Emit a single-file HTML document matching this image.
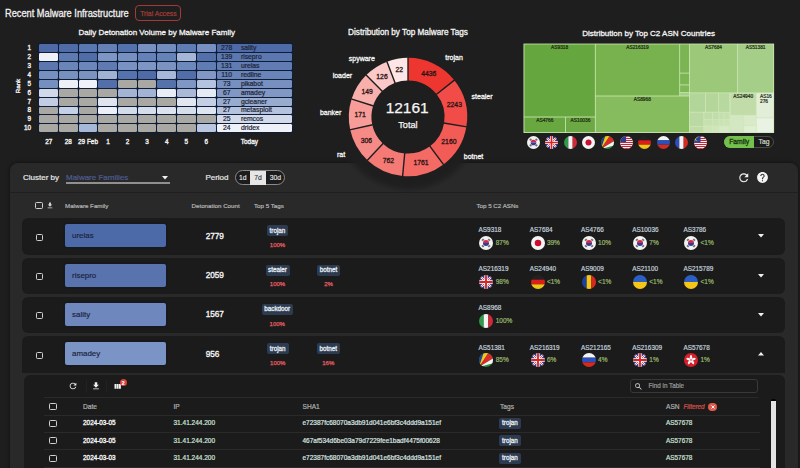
<!DOCTYPE html><html><head><meta charset="utf-8"><style>
html,body{margin:0;padding:0;width:800px;height:468px;overflow:hidden;background:#1e1e1e;font-family:"Liberation Sans", sans-serif;}
.t{-webkit-text-stroke:0.2px currentColor;}
div{box-sizing:border-box;}
</style></head><body><div style="position:relative;width:800px;height:468px;overflow:hidden;">
<div class="t" style="position:absolute;left:4.7px;top:13.7px;transform:translate(0,-50%);font-size:10px;color:#f0f0f0;font-weight:400;white-space:nowrap;line-height:1;transform:translate(0,-50%) scaleX(0.924);transform-origin:0 50%;-webkit-text-stroke:0.3px #f0f0f0;">Recent Malware Infrastructure</div>
<div style="position:absolute;left:135.3px;top:4.8px;width:45.7px;height:16.6px;border:1.1px solid #a33a36;border-radius:4px;"></div>
<div class="t" style="position:absolute;left:158.4px;top:14.0px;transform:translate(-50%,-50%);font-size:6.8px;color:#9e3b37;font-weight:400;white-space:nowrap;line-height:1;-webkit-text-stroke:0.25px #9e3b37;">Trial Access</div>
<div class="t" style="position:absolute;left:156.7px;top:33px;transform:translate(-50%,-50%);font-size:8px;color:#f4f4f4;font-weight:400;white-space:nowrap;line-height:1;-webkit-text-stroke:0.3px #f4f4f4;">Daily Detonation Volume by Malware Family</div>
<div style="position:absolute;left:38px;top:43.1px;width:254.5px;height:90px;background:#0e1c38;border-radius:1px;"></div>
<div style="position:absolute;left:39px;top:44px;width:19px;height:8px;background:#4e6ba6;border-radius:1.3px;"></div>
<div style="position:absolute;left:59px;top:44px;width:19px;height:8px;background:#4f6ca7;border-radius:1.3px;"></div>
<div style="position:absolute;left:79px;top:44px;width:18px;height:8px;background:#5a78b0;border-radius:1.3px;"></div>
<div style="position:absolute;left:98px;top:44px;width:19px;height:8px;background:#6580b5;border-radius:1.3px;"></div>
<div style="position:absolute;left:118px;top:44px;width:19px;height:8px;background:#5472ac;border-radius:1.3px;"></div>
<div style="position:absolute;left:138px;top:44px;width:18px;height:8px;background:#7790c0;border-radius:1.3px;"></div>
<div style="position:absolute;left:157px;top:44px;width:19px;height:8px;background:#728cbd;border-radius:1.3px;"></div>
<div style="position:absolute;left:177px;top:44px;width:19px;height:8px;background:#5f7cb3;border-radius:1.3px;"></div>
<div style="position:absolute;left:197px;top:44px;width:19px;height:8px;background:#7790c0;border-radius:1.3px;"></div>
<div style="position:absolute;left:39px;top:53px;width:19px;height:8px;background:#eef1f6;border-radius:1.3px;"></div>
<div style="position:absolute;left:59px;top:53px;width:19px;height:8px;background:#5e7bb1;border-radius:1.3px;"></div>
<div style="position:absolute;left:79px;top:53px;width:18px;height:8px;background:#506da8;border-radius:1.3px;"></div>
<div style="position:absolute;left:98px;top:53px;width:19px;height:8px;background:#7e96c3;border-radius:1.3px;"></div>
<div style="position:absolute;left:118px;top:53px;width:19px;height:8px;background:#7690c0;border-radius:1.3px;"></div>
<div style="position:absolute;left:138px;top:53px;width:18px;height:8px;background:#6582b8;border-radius:1.3px;"></div>
<div style="position:absolute;left:157px;top:53px;width:19px;height:8px;background:#6683b8;border-radius:1.3px;"></div>
<div style="position:absolute;left:177px;top:53px;width:19px;height:8px;background:#a5b6d6;border-radius:1.3px;"></div>
<div style="position:absolute;left:197px;top:53px;width:19px;height:8px;background:#5470aa;border-radius:1.3px;"></div>
<div style="position:absolute;left:39px;top:62px;width:19px;height:8px;background:#5b77ad;border-radius:1.3px;"></div>
<div style="position:absolute;left:59px;top:62px;width:19px;height:8px;background:#6a86b9;border-radius:1.3px;"></div>
<div style="position:absolute;left:79px;top:62px;width:18px;height:8px;background:#6c87ba;border-radius:1.3px;"></div>
<div style="position:absolute;left:98px;top:62px;width:19px;height:8px;background:#5f7bb1;border-radius:1.3px;"></div>
<div style="position:absolute;left:118px;top:62px;width:19px;height:8px;background:#7892c1;border-radius:1.3px;"></div>
<div style="position:absolute;left:138px;top:62px;width:18px;height:8px;background:#7d96c3;border-radius:1.3px;"></div>
<div style="position:absolute;left:157px;top:62px;width:19px;height:8px;background:#7a93c0;border-radius:1.3px;"></div>
<div style="position:absolute;left:177px;top:62px;width:19px;height:8px;background:#6d88bb;border-radius:1.3px;"></div>
<div style="position:absolute;left:197px;top:62px;width:19px;height:8px;background:#607db3;border-radius:1.3px;"></div>
<div style="position:absolute;left:39px;top:71px;width:19px;height:8px;background:#7690bf;border-radius:1.3px;"></div>
<div style="position:absolute;left:59px;top:71px;width:19px;height:8px;background:#7891bd;border-radius:1.3px;"></div>
<div style="position:absolute;left:79px;top:71px;width:18px;height:8px;background:#7b93bd;border-radius:1.3px;"></div>
<div style="position:absolute;left:98px;top:71px;width:19px;height:8px;background:#a0b3d5;border-radius:1.3px;"></div>
<div style="position:absolute;left:118px;top:71px;width:19px;height:8px;background:#5573ad;border-radius:1.3px;"></div>
<div style="position:absolute;left:138px;top:71px;width:18px;height:8px;background:#4f6ca8;border-radius:1.3px;"></div>
<div style="position:absolute;left:157px;top:71px;width:19px;height:8px;background:#a7b8d8;border-radius:1.3px;"></div>
<div style="position:absolute;left:177px;top:71px;width:19px;height:8px;background:#516ea9;border-radius:1.3px;"></div>
<div style="position:absolute;left:197px;top:71px;width:19px;height:8px;background:#8098c3;border-radius:1.3px;"></div>
<div style="position:absolute;left:39px;top:80px;width:19px;height:8px;background:#7590bf;border-radius:1.3px;"></div>
<div style="position:absolute;left:59px;top:80px;width:19px;height:8px;background:#eef0f8;border-radius:1.3px;"></div>
<div style="position:absolute;left:79px;top:80px;width:18px;height:8px;background:#f0f2f9;border-radius:1.3px;"></div>
<div style="position:absolute;left:98px;top:80px;width:19px;height:8px;background:#526fa9;border-radius:1.3px;"></div>
<div style="position:absolute;left:118px;top:80px;width:19px;height:8px;background:#a9a8a3;border-radius:1.3px;"></div>
<div style="position:absolute;left:138px;top:80px;width:18px;height:8px;background:#a9a8a3;border-radius:1.3px;"></div>
<div style="position:absolute;left:157px;top:80px;width:19px;height:8px;background:#5572ab;border-radius:1.3px;"></div>
<div style="position:absolute;left:177px;top:80px;width:19px;height:8px;background:#7f97c4;border-radius:1.3px;"></div>
<div style="position:absolute;left:197px;top:80px;width:19px;height:8px;background:#b4c3df;border-radius:1.3px;"></div>
<div style="position:absolute;left:39px;top:89px;width:19px;height:8px;background:#d0d9ea;border-radius:1.3px;"></div>
<div style="position:absolute;left:59px;top:89px;width:19px;height:8px;background:#a9a8a3;border-radius:1.3px;"></div>
<div style="position:absolute;left:79px;top:89px;width:18px;height:8px;background:#a9a8a3;border-radius:1.3px;"></div>
<div style="position:absolute;left:98px;top:89px;width:19px;height:8px;background:#a9a8a3;border-radius:1.3px;"></div>
<div style="position:absolute;left:118px;top:89px;width:19px;height:8px;background:#a4b5d3;border-radius:1.3px;"></div>
<div style="position:absolute;left:138px;top:89px;width:18px;height:8px;background:#a2b3d3;border-radius:1.3px;"></div>
<div style="position:absolute;left:157px;top:89px;width:19px;height:8px;background:#e8ecf4;border-radius:1.3px;"></div>
<div style="position:absolute;left:177px;top:89px;width:19px;height:8px;background:#aab9d5;border-radius:1.3px;"></div>
<div style="position:absolute;left:197px;top:89px;width:19px;height:8px;background:#e6eaf3;border-radius:1.3px;"></div>
<div style="position:absolute;left:39px;top:98px;width:19px;height:8px;background:#c2cde3;border-radius:1.3px;"></div>
<div style="position:absolute;left:59px;top:98px;width:19px;height:8px;background:#a9a8a3;border-radius:1.3px;"></div>
<div style="position:absolute;left:79px;top:98px;width:18px;height:8px;background:#a9a8a3;border-radius:1.3px;"></div>
<div style="position:absolute;left:98px;top:98px;width:19px;height:8px;background:#dfe4ee;border-radius:1.3px;"></div>
<div style="position:absolute;left:118px;top:98px;width:19px;height:8px;background:#a9a8a3;border-radius:1.3px;"></div>
<div style="position:absolute;left:138px;top:98px;width:18px;height:8px;background:#a9a8a3;border-radius:1.3px;"></div>
<div style="position:absolute;left:157px;top:98px;width:19px;height:8px;background:#a9a8a3;border-radius:1.3px;"></div>
<div style="position:absolute;left:177px;top:98px;width:19px;height:8px;background:#e2e7ef;border-radius:1.3px;"></div>
<div style="position:absolute;left:197px;top:98px;width:19px;height:8px;background:#c5cfe4;border-radius:1.3px;"></div>
<div style="position:absolute;left:39px;top:107px;width:19px;height:7px;background:#a9a8a3;border-radius:1.3px;"></div>
<div style="position:absolute;left:59px;top:107px;width:19px;height:7px;background:#c4d0e6;border-radius:1.3px;"></div>
<div style="position:absolute;left:79px;top:107px;width:18px;height:7px;background:#a9a8a3;border-radius:1.3px;"></div>
<div style="position:absolute;left:98px;top:107px;width:19px;height:7px;background:#eceff8;border-radius:1.3px;"></div>
<div style="position:absolute;left:118px;top:107px;width:19px;height:7px;background:#d3dbea;border-radius:1.3px;"></div>
<div style="position:absolute;left:138px;top:107px;width:18px;height:7px;background:#d5dcea;border-radius:1.3px;"></div>
<div style="position:absolute;left:157px;top:107px;width:19px;height:7px;background:#dde3ee;border-radius:1.3px;"></div>
<div style="position:absolute;left:177px;top:107px;width:19px;height:7px;background:#d6ddeb;border-radius:1.3px;"></div>
<div style="position:absolute;left:197px;top:107px;width:19px;height:7px;background:#dfe5f0;border-radius:1.3px;"></div>
<div style="position:absolute;left:39px;top:115px;width:19px;height:8px;background:#a9a8a3;border-radius:1.3px;"></div>
<div style="position:absolute;left:59px;top:115px;width:19px;height:8px;background:#a9a8a3;border-radius:1.3px;"></div>
<div style="position:absolute;left:79px;top:115px;width:18px;height:8px;background:#a9a8a3;border-radius:1.3px;"></div>
<div style="position:absolute;left:98px;top:115px;width:19px;height:8px;background:#a9a8a3;border-radius:1.3px;"></div>
<div style="position:absolute;left:118px;top:115px;width:19px;height:8px;background:#a9a8a3;border-radius:1.3px;"></div>
<div style="position:absolute;left:138px;top:115px;width:18px;height:8px;background:#a9a8a3;border-radius:1.3px;"></div>
<div style="position:absolute;left:157px;top:115px;width:19px;height:8px;background:#a9a8a3;border-radius:1.3px;"></div>
<div style="position:absolute;left:177px;top:115px;width:19px;height:8px;background:#a9a8a3;border-radius:1.3px;"></div>
<div style="position:absolute;left:197px;top:115px;width:19px;height:8px;background:#a9a8a3;border-radius:1.3px;"></div>
<div style="position:absolute;left:39px;top:124px;width:19px;height:8px;background:#a9a8a3;border-radius:1.3px;"></div>
<div style="position:absolute;left:59px;top:124px;width:19px;height:8px;background:#a9a8a3;border-radius:1.3px;"></div>
<div style="position:absolute;left:79px;top:124px;width:18px;height:8px;background:#a6b8d8;border-radius:1.3px;"></div>
<div style="position:absolute;left:98px;top:124px;width:19px;height:8px;background:#a9a8a3;border-radius:1.3px;"></div>
<div style="position:absolute;left:118px;top:124px;width:19px;height:8px;background:#a9a8a3;border-radius:1.3px;"></div>
<div style="position:absolute;left:138px;top:124px;width:18px;height:8px;background:#a9a8a3;border-radius:1.3px;"></div>
<div style="position:absolute;left:157px;top:124px;width:19px;height:8px;background:#a9a8a3;border-radius:1.3px;"></div>
<div style="position:absolute;left:177px;top:124px;width:19px;height:8px;background:#a9a8a3;border-radius:1.3px;"></div>
<div style="position:absolute;left:197px;top:124px;width:19px;height:8px;background:#b8c6e0;border-radius:1.3px;"></div>
<div style="position:absolute;left:217px;top:44px;width:74.5px;height:8px;background:#4f6ba7;border-radius:1.3px;"></div>
<div class="t" style="position:absolute;left:226.7px;top:48.15px;transform:translate(-50%,-50%);font-size:6.8px;color:#1c2335;font-weight:400;white-space:nowrap;line-height:1;">278</div>
<div class="t" style="position:absolute;left:240.9px;top:48.15px;transform:translate(0,-50%);font-size:6.8px;color:#1c2335;font-weight:400;white-space:nowrap;line-height:1;">sality</div>
<div style="position:absolute;left:217px;top:53px;width:74.5px;height:8px;background:#5c78b0;border-radius:1.3px;"></div>
<div class="t" style="position:absolute;left:226.7px;top:57.05px;transform:translate(-50%,-50%);font-size:6.8px;color:#1c2335;font-weight:400;white-space:nowrap;line-height:1;">139</div>
<div class="t" style="position:absolute;left:240.9px;top:57.05px;transform:translate(0,-50%);font-size:6.8px;color:#1c2335;font-weight:400;white-space:nowrap;line-height:1;">risepro</div>
<div style="position:absolute;left:217px;top:62px;width:74.5px;height:8px;background:#607cb2;border-radius:1.3px;"></div>
<div class="t" style="position:absolute;left:226.7px;top:65.95px;transform:translate(-50%,-50%);font-size:6.8px;color:#1c2335;font-weight:400;white-space:nowrap;line-height:1;">131</div>
<div class="t" style="position:absolute;left:240.9px;top:65.95px;transform:translate(0,-50%);font-size:6.8px;color:#1c2335;font-weight:400;white-space:nowrap;line-height:1;">urelas</div>
<div style="position:absolute;left:217px;top:71px;width:74.5px;height:8px;background:#6984b8;border-radius:1.3px;"></div>
<div class="t" style="position:absolute;left:226.7px;top:74.85000000000001px;transform:translate(-50%,-50%);font-size:6.8px;color:#1c2335;font-weight:400;white-space:nowrap;line-height:1;">110</div>
<div class="t" style="position:absolute;left:240.9px;top:74.85000000000001px;transform:translate(0,-50%);font-size:6.8px;color:#1c2335;font-weight:400;white-space:nowrap;line-height:1;">redline</div>
<div style="position:absolute;left:217px;top:80px;width:74.5px;height:8px;background:#7790c0;border-radius:1.3px;"></div>
<div class="t" style="position:absolute;left:226.7px;top:83.75px;transform:translate(-50%,-50%);font-size:6.8px;color:#1c2335;font-weight:400;white-space:nowrap;line-height:1;">73</div>
<div class="t" style="position:absolute;left:240.9px;top:83.75px;transform:translate(0,-50%);font-size:6.8px;color:#1c2335;font-weight:400;white-space:nowrap;line-height:1;">pikabot</div>
<div style="position:absolute;left:217px;top:89px;width:74.5px;height:8px;background:#8198c4;border-radius:1.3px;"></div>
<div class="t" style="position:absolute;left:226.7px;top:92.65px;transform:translate(-50%,-50%);font-size:6.8px;color:#1c2335;font-weight:400;white-space:nowrap;line-height:1;">67</div>
<div class="t" style="position:absolute;left:240.9px;top:92.65px;transform:translate(0,-50%);font-size:6.8px;color:#1c2335;font-weight:400;white-space:nowrap;line-height:1;">amadey</div>
<div style="position:absolute;left:217px;top:98px;width:74.5px;height:8px;background:#98acd0;border-radius:1.3px;"></div>
<div class="t" style="position:absolute;left:226.7px;top:101.55000000000001px;transform:translate(-50%,-50%);font-size:6.8px;color:#1c2335;font-weight:400;white-space:nowrap;line-height:1;">27</div>
<div class="t" style="position:absolute;left:240.9px;top:101.55000000000001px;transform:translate(0,-50%);font-size:6.8px;color:#1c2335;font-weight:400;white-space:nowrap;line-height:1;">gcleaner</div>
<div style="position:absolute;left:217px;top:107px;width:74.5px;height:7px;background:#b5c3de;border-radius:1.3px;"></div>
<div class="t" style="position:absolute;left:226.7px;top:110.45000000000002px;transform:translate(-50%,-50%);font-size:6.8px;color:#1c2335;font-weight:400;white-space:nowrap;line-height:1;">27</div>
<div class="t" style="position:absolute;left:240.9px;top:110.45000000000002px;transform:translate(0,-50%);font-size:6.8px;color:#1c2335;font-weight:400;white-space:nowrap;line-height:1;">metasploit</div>
<div style="position:absolute;left:217px;top:115px;width:74.5px;height:8px;background:#d3dbea;border-radius:1.3px;"></div>
<div class="t" style="position:absolute;left:226.7px;top:119.35000000000001px;transform:translate(-50%,-50%);font-size:6.8px;color:#1c2335;font-weight:400;white-space:nowrap;line-height:1;">25</div>
<div class="t" style="position:absolute;left:240.9px;top:119.35000000000001px;transform:translate(0,-50%);font-size:6.8px;color:#1c2335;font-weight:400;white-space:nowrap;line-height:1;">remcos</div>
<div style="position:absolute;left:217px;top:124px;width:74.5px;height:8px;background:#eef1f8;border-radius:1.3px;"></div>
<div class="t" style="position:absolute;left:226.7px;top:128.25px;transform:translate(-50%,-50%);font-size:6.8px;color:#1c2335;font-weight:400;white-space:nowrap;line-height:1;">24</div>
<div class="t" style="position:absolute;left:240.9px;top:128.25px;transform:translate(0,-50%);font-size:6.8px;color:#1c2335;font-weight:400;white-space:nowrap;line-height:1;">dridex</div>
<div class="t" style="position:absolute;left:31px;top:48.15px;transform:translate(-100%,-50%);font-size:6.4px;color:#f0f0f0;font-weight:400;white-space:nowrap;line-height:1;-webkit-text-stroke:0.35px #f0f0f0;">1</div>
<div class="t" style="position:absolute;left:31px;top:57.05px;transform:translate(-100%,-50%);font-size:6.4px;color:#f0f0f0;font-weight:400;white-space:nowrap;line-height:1;-webkit-text-stroke:0.35px #f0f0f0;">2</div>
<div class="t" style="position:absolute;left:31px;top:65.95px;transform:translate(-100%,-50%);font-size:6.4px;color:#f0f0f0;font-weight:400;white-space:nowrap;line-height:1;-webkit-text-stroke:0.35px #f0f0f0;">3</div>
<div class="t" style="position:absolute;left:31px;top:74.85000000000001px;transform:translate(-100%,-50%);font-size:6.4px;color:#f0f0f0;font-weight:400;white-space:nowrap;line-height:1;-webkit-text-stroke:0.35px #f0f0f0;">4</div>
<div class="t" style="position:absolute;left:31px;top:83.75px;transform:translate(-100%,-50%);font-size:6.4px;color:#f0f0f0;font-weight:400;white-space:nowrap;line-height:1;-webkit-text-stroke:0.35px #f0f0f0;">5</div>
<div class="t" style="position:absolute;left:31px;top:92.65px;transform:translate(-100%,-50%);font-size:6.4px;color:#f0f0f0;font-weight:400;white-space:nowrap;line-height:1;-webkit-text-stroke:0.35px #f0f0f0;">6</div>
<div class="t" style="position:absolute;left:31px;top:101.55000000000001px;transform:translate(-100%,-50%);font-size:6.4px;color:#f0f0f0;font-weight:400;white-space:nowrap;line-height:1;-webkit-text-stroke:0.35px #f0f0f0;">7</div>
<div class="t" style="position:absolute;left:31px;top:110.45000000000002px;transform:translate(-100%,-50%);font-size:6.4px;color:#f0f0f0;font-weight:400;white-space:nowrap;line-height:1;-webkit-text-stroke:0.35px #f0f0f0;">8</div>
<div class="t" style="position:absolute;left:31px;top:119.35000000000001px;transform:translate(-100%,-50%);font-size:6.4px;color:#f0f0f0;font-weight:400;white-space:nowrap;line-height:1;-webkit-text-stroke:0.35px #f0f0f0;">9</div>
<div class="t" style="position:absolute;left:31px;top:128.25px;transform:translate(-100%,-50%);font-size:6.4px;color:#f0f0f0;font-weight:400;white-space:nowrap;line-height:1;-webkit-text-stroke:0.35px #f0f0f0;">10</div>
<div class="t" style="position:absolute;left:18.3px;top:85.5px;transform:translate(-50%,-50%);font-size:6.2px;color:#f0f0f0;font-weight:400;white-space:nowrap;line-height:1;transform:translate(-50%,-50%) rotate(-90deg);-webkit-text-stroke:0.35px #f0f0f0;">Rank</div>
<div class="t" style="position:absolute;left:48.7px;top:141.7px;transform:translate(-50%,-50%);font-size:6.4px;color:#f0f0f0;font-weight:400;white-space:nowrap;line-height:1;-webkit-text-stroke:0.35px #f0f0f0;">27</div>
<div class="t" style="position:absolute;left:68.2px;top:141.7px;transform:translate(-50%,-50%);font-size:6.4px;color:#f0f0f0;font-weight:400;white-space:nowrap;line-height:1;-webkit-text-stroke:0.35px #f0f0f0;">28</div>
<div class="t" style="position:absolute;left:88px;top:141.7px;transform:translate(-50%,-50%);font-size:6.4px;color:#f0f0f0;font-weight:400;white-space:nowrap;line-height:1;-webkit-text-stroke:0.35px #f0f0f0;">29 Feb</div>
<div class="t" style="position:absolute;left:108px;top:141.7px;transform:translate(-50%,-50%);font-size:6.4px;color:#f0f0f0;font-weight:400;white-space:nowrap;line-height:1;-webkit-text-stroke:0.35px #f0f0f0;">1</div>
<div class="t" style="position:absolute;left:127.5px;top:141.7px;transform:translate(-50%,-50%);font-size:6.4px;color:#f0f0f0;font-weight:400;white-space:nowrap;line-height:1;-webkit-text-stroke:0.35px #f0f0f0;">2</div>
<div class="t" style="position:absolute;left:147px;top:141.7px;transform:translate(-50%,-50%);font-size:6.4px;color:#f0f0f0;font-weight:400;white-space:nowrap;line-height:1;-webkit-text-stroke:0.35px #f0f0f0;">3</div>
<div class="t" style="position:absolute;left:166.9px;top:141.7px;transform:translate(-50%,-50%);font-size:6.4px;color:#f0f0f0;font-weight:400;white-space:nowrap;line-height:1;-webkit-text-stroke:0.35px #f0f0f0;">4</div>
<div class="t" style="position:absolute;left:186.4px;top:141.7px;transform:translate(-50%,-50%);font-size:6.4px;color:#f0f0f0;font-weight:400;white-space:nowrap;line-height:1;-webkit-text-stroke:0.35px #f0f0f0;">5</div>
<div class="t" style="position:absolute;left:206.2px;top:141.7px;transform:translate(-50%,-50%);font-size:6.4px;color:#f0f0f0;font-weight:400;white-space:nowrap;line-height:1;-webkit-text-stroke:0.35px #f0f0f0;">6</div>
<div class="t" style="position:absolute;left:249.4px;top:141.7px;transform:translate(-50%,-50%);font-size:6.4px;color:#f0f0f0;font-weight:400;white-space:nowrap;line-height:1;-webkit-text-stroke:0.35px #f0f0f0;">Today</div>
<div class="t" style="position:absolute;left:648.6px;top:33.5px;transform:translate(-50%,-50%);font-size:8px;color:#f4f4f4;font-weight:400;white-space:nowrap;line-height:1;-webkit-text-stroke:0.3px #f4f4f4;">Distribution by Top C2 ASN Countries</div>
<svg style="position:absolute;left:0;top:0" width="800" height="468" viewBox="0 0 800 468"><rect x="523.5" y="43.6" width="250.6" height="89.4" fill="#cfe8b8"/><rect x="524.40" y="44.40" width="70.50" height="72.20" fill="#66a63e"/><rect x="524.40" y="117.40" width="40.80" height="14.80" fill="#69a841"/><rect x="566.00" y="117.40" width="28.90" height="14.80" fill="#6ca944"/><rect x="595.70" y="44.40" width="83.60" height="51.20" fill="#77b24e"/><rect x="680.10" y="44.40" width="8.90" height="28.30" fill="#7bb452"/><rect x="680.10" y="73.50" width="8.90" height="11.00" fill="#7db554"/><rect x="680.10" y="85.30" width="8.90" height="6.90" fill="#80b757"/><rect x="680.10" y="93.00" width="8.90" height="2.60" fill="#a5cf86"/><rect x="595.70" y="96.40" width="93.30" height="35.80" fill="#86bb5e"/><rect x="689.80" y="44.40" width="47.40" height="48.10" fill="#9bc979"/><rect x="738.00" y="44.40" width="35.30" height="48.10" fill="#a5cf88"/><rect x="689.80" y="93.30" width="15.40" height="18.50" fill="#b2d599"/><rect x="706.00" y="93.30" width="12.30" height="18.50" fill="#b4d69b"/><rect x="719.10" y="93.30" width="10.20" height="18.50" fill="#b7d89e"/><rect x="689.80" y="112.60" width="13.60" height="13.60" fill="#bbdaa3"/><rect x="689.80" y="127.00" width="13.60" height="5.20" fill="#bfdca7"/><rect x="704.20" y="112.60" width="7.90" height="6.60" fill="#c0dca9"/><rect x="712.90" y="112.60" width="5.70" height="6.60" fill="#c2ddab"/><rect x="719.40" y="112.60" width="4.20" height="6.60" fill="#c4dead"/><rect x="724.40" y="112.60" width="4.90" height="6.60" fill="#c6dfaf"/><rect x="704.20" y="120.00" width="7.90" height="5.60" fill="#c6e0b0"/><rect x="712.90" y="120.00" width="5.70" height="5.60" fill="#c8e1b3"/><rect x="719.40" y="120.00" width="4.20" height="5.60" fill="#cae2b5"/><rect x="724.40" y="120.00" width="4.90" height="5.60" fill="#cce3b7"/><rect x="704.20" y="126.40" width="7.90" height="5.80" fill="#cde4b9"/><rect x="712.90" y="126.40" width="5.70" height="5.80" fill="#d0e5bc"/><rect x="719.40" y="126.40" width="9.90" height="5.80" fill="#d6e9c5"/><rect x="730.50" y="93.30" width="25.40" height="21.60" fill="#c1dca9"/><rect x="756.70" y="93.30" width="16.60" height="24.20" fill="#e2eed8"/><rect x="730.50" y="115.70" width="12.90" height="16.50" fill="#d3e7c3"/><rect x="744.20" y="115.70" width="11.70" height="9.40" fill="#d8eac9"/><rect x="744.20" y="125.90" width="11.70" height="6.30" fill="#e0eed4"/><rect x="756.70" y="118.30" width="16.60" height="13.90" fill="#eaf3e3"/></svg>
<div class="t" style="position:absolute;left:559.65px;top:47.9px;transform:translate(-50%,-50%);font-size:4.8px;color:#1c2a12;font-weight:400;white-space:nowrap;line-height:1;-webkit-text-stroke:0.2px #1c2a12;">AS9318</div>
<div class="t" style="position:absolute;left:544.8px;top:120.9px;transform:translate(-50%,-50%);font-size:4.8px;color:#1c2a12;font-weight:400;white-space:nowrap;line-height:1;-webkit-text-stroke:0.2px #1c2a12;">AS4766</div>
<div class="t" style="position:absolute;left:580.45px;top:120.9px;transform:translate(-50%,-50%);font-size:4.8px;color:#1c2a12;font-weight:400;white-space:nowrap;line-height:1;-webkit-text-stroke:0.2px #1c2a12;">AS10036</div>
<div class="t" style="position:absolute;left:637.5px;top:47.9px;transform:translate(-50%,-50%);font-size:4.8px;color:#1c2a12;font-weight:400;white-space:nowrap;line-height:1;-webkit-text-stroke:0.2px #1c2a12;">AS216319</div>
<div class="t" style="position:absolute;left:642.3499999999999px;top:99.9px;transform:translate(-50%,-50%);font-size:4.8px;color:#1c2a12;font-weight:400;white-space:nowrap;line-height:1;-webkit-text-stroke:0.2px #1c2a12;">AS8968</div>
<div class="t" style="position:absolute;left:713.5px;top:47.9px;transform:translate(-50%,-50%);font-size:4.8px;color:#1c2a12;font-weight:400;white-space:nowrap;line-height:1;-webkit-text-stroke:0.2px #1c2a12;">AS7684</div>
<div class="t" style="position:absolute;left:755.6500000000001px;top:47.9px;transform:translate(-50%,-50%);font-size:4.8px;color:#1c2a12;font-weight:400;white-space:nowrap;line-height:1;-webkit-text-stroke:0.2px #1c2a12;">AS51381</div>
<div class="t" style="position:absolute;left:743.2px;top:96.80000000000001px;transform:translate(-50%,-50%);font-size:4.8px;color:#1c2a12;font-weight:400;white-space:nowrap;line-height:1;-webkit-text-stroke:0.2px #1c2a12;">AS24940</div>
<div class="t" style="position:absolute;left:760px;top:96.7px;transform:translate(0,-50%);font-size:4.8px;color:#1c2a12;font-weight:400;white-space:nowrap;line-height:1;-webkit-text-stroke:0.2px #1c2a12;">AS16</div>
<div class="t" style="position:absolute;left:760px;top:102.3px;transform:translate(0,-50%);font-size:4.8px;color:#1c2a12;font-weight:400;white-space:nowrap;line-height:1;-webkit-text-stroke:0.2px #1c2a12;">276</div>
<svg style="position:absolute;left:526.70px;top:136.30px" width="13" height="13" viewBox="0 0 30 30"><defs><clipPath id="f1"><circle cx="15" cy="15" r="15"/></clipPath></defs><g clip-path="url(#f1)"><rect width="30" height="30" fill="#f2f2f2"/><path d="M8.5,15 a6.5,6.5 0 0 1 13,0Z" fill="#d8284a"/><path d="M8.5,15 a6.5,6.5 0 0 0 13,0Z" fill="#2a3f9a"/><rect x="5.700000000000001" y="6.4" width="5.2" height="3.8" fill="#707070" transform="rotate(-45 8.3 8.3)"/><rect x="19.099999999999998" y="6.4" width="5.2" height="3.8" fill="#707070" transform="rotate(45 21.7 8.3)"/><rect x="5.700000000000001" y="19.8" width="5.2" height="3.8" fill="#707070" transform="rotate(45 8.3 21.7)"/><rect x="19.099999999999998" y="19.8" width="5.2" height="3.8" fill="#707070" transform="rotate(-45 21.7 21.7)"/></g></svg>
<svg style="position:absolute;left:545.28px;top:136.30px" width="13" height="13" viewBox="0 0 30 30"><defs><clipPath id="f2"><circle cx="15" cy="15" r="15"/></clipPath></defs><g clip-path="url(#f2)"><rect width="30" height="30" fill="#2a3f8f"/><path d="M0,0 L30,30 M30,0 L0,30" stroke="#fff" stroke-width="4.5"/><path d="M0,0 L30,30 M30,0 L0,30" stroke="#d22" stroke-width="1.6"/><path d="M15,0 V30 M0,15 H30" stroke="#fff" stroke-width="7"/><path d="M15,0 V30 M0,15 H30" stroke="#d22" stroke-width="4"/></g></svg>
<svg style="position:absolute;left:563.86px;top:136.30px" width="13" height="13" viewBox="0 0 30 30"><defs><clipPath id="f3"><circle cx="15" cy="15" r="15"/></clipPath></defs><g clip-path="url(#f3)"><rect width="10" height="30" fill="#2f9a48"/><rect x="10" width="10" height="30" fill="#f4f4f4"/><rect x="20" width="10" height="30" fill="#d3273a"/></g></svg>
<svg style="position:absolute;left:582.44px;top:136.30px" width="13" height="13" viewBox="0 0 30 30"><defs><clipPath id="f4"><circle cx="15" cy="15" r="15"/></clipPath></defs><g clip-path="url(#f4)"><rect width="30" height="30" fill="#f4f4f4"/><circle cx="15" cy="15" r="7" fill="#c8102e"/></g></svg>
<svg style="position:absolute;left:601.02px;top:136.30px" width="13" height="13" viewBox="0 0 30 30"><defs><clipPath id="f5"><circle cx="15" cy="15" r="15"/></clipPath></defs><g clip-path="url(#f5)"><rect width="30" height="30" fill="#2e8b3a"/><path d="M0,30 L0,0 L10,0Z" fill="#1f3f9a"/><path d="M0,30 L10,0 L20,0Z" fill="#f5c518"/><path d="M0,30 L20,0 L30,0 L30,12Z" fill="#d92b2b"/><path d="M0,30 L30,12 L30,22Z" fill="#f4f4f4"/></g></svg>
<svg style="position:absolute;left:619.60px;top:136.30px" width="13" height="13" viewBox="0 0 30 30"><defs><clipPath id="f6"><circle cx="15" cy="15" r="15"/></clipPath></defs><g clip-path="url(#f6)"><rect width="30" height="30" fill="#f4f4f4"/><rect y="0.00" width="30" height="2.31" fill="#c8253a"/><rect y="4.62" width="30" height="2.31" fill="#c8253a"/><rect y="9.23" width="30" height="2.31" fill="#c8253a"/><rect y="13.85" width="30" height="2.31" fill="#c8253a"/><rect y="18.46" width="30" height="2.31" fill="#c8253a"/><rect y="23.08" width="30" height="2.31" fill="#c8253a"/><rect y="27.69" width="30" height="2.31" fill="#c8253a"/><rect width="14" height="14" fill="#2c3d8a"/></g></svg>
<svg style="position:absolute;left:638.18px;top:136.30px" width="13" height="13" viewBox="0 0 30 30"><defs><clipPath id="f7"><circle cx="15" cy="15" r="15"/></clipPath></defs><g clip-path="url(#f7)"><rect width="30" height="10" fill="#222"/><rect y="10" width="30" height="10" fill="#dd1c1c"/><rect y="20" width="30" height="10" fill="#f2c417"/></g></svg>
<svg style="position:absolute;left:656.76px;top:136.30px" width="13" height="13" viewBox="0 0 30 30"><defs><clipPath id="f8"><circle cx="15" cy="15" r="15"/></clipPath></defs><g clip-path="url(#f8)"><rect width="30" height="10" fill="#f4f4f4"/><rect y="10" width="30" height="10" fill="#2b4fbf"/><rect y="20" width="30" height="10" fill="#d52b1e"/></g></svg>
<svg style="position:absolute;left:675.34px;top:136.30px" width="13" height="13" viewBox="0 0 30 30"><defs><clipPath id="f9"><circle cx="15" cy="15" r="15"/></clipPath></defs><g clip-path="url(#f9)"><rect width="10" height="30" fill="#2b4fbf"/><rect x="10" width="10" height="30" fill="#f4f4f4"/><rect x="20" width="10" height="30" fill="#d52b1e"/></g></svg>
<svg style="position:absolute;left:693.92px;top:136.30px" width="13" height="13" viewBox="0 0 30 30"><defs><clipPath id="f10"><circle cx="15" cy="15" r="15"/></clipPath></defs><g clip-path="url(#f10)"><rect width="30" height="30" fill="#f4f4f4"/><rect y="0.00" width="30" height="2.31" fill="#cc2233"/><rect y="4.62" width="30" height="2.31" fill="#cc2233"/><rect y="9.23" width="30" height="2.31" fill="#cc2233"/><rect y="13.85" width="30" height="2.31" fill="#cc2233"/><rect y="18.46" width="30" height="2.31" fill="#cc2233"/><rect y="23.08" width="30" height="2.31" fill="#cc2233"/><rect y="27.69" width="30" height="2.31" fill="#cc2233"/><rect width="15" height="15" fill="#1f3f9a"/><circle cx="7" cy="7.5" r="4.5" fill="#f5c518"/><circle cx="8.5" cy="7.5" r="3.8" fill="#1f3f9a"/></g></svg>
<div style="position:absolute;left:724px;top:136.4px;width:50px;height:11.8px;border:1px solid #4a4a4a;border-radius:6px;background:#1b1b1b;overflow:hidden;"></div>
<div style="position:absolute;left:724px;top:136.4px;width:30px;height:11.8px;background:#74c04c;border-radius:6px 0 0 6px;"></div>
<div class="t" style="position:absolute;left:739.2px;top:142.4px;transform:translate(-50%,-50%);font-size:6.8px;color:#163210;font-weight:400;white-space:nowrap;line-height:1;-webkit-text-stroke:0.3px #163210;">Family</div>
<div class="t" style="position:absolute;left:764px;top:142.4px;transform:translate(-50%,-50%);font-size:6.8px;color:#cdd8c6;font-weight:400;white-space:nowrap;line-height:1;">Tag</div>
<div style="position:absolute;left:9.5px;top:162.5px;width:788.5px;height:320px;background:#292929;border-radius:8px;box-shadow:0 0 4px rgba(0,0,0,0.5);"></div>
<div class="t" style="position:absolute;left:23px;top:177.5px;transform:translate(0,-50%);font-size:8px;color:#e8e8e8;font-weight:400;white-space:nowrap;line-height:1;">Cluster by</div>
<div class="t" style="position:absolute;left:66px;top:178.1px;transform:translate(0,-50%);font-size:8px;color:#4e5d92;font-weight:400;white-space:nowrap;line-height:1;">Malware Families</div>
<div style="position:absolute;left:66px;top:182.2px;width:104px;height:1.6px;background:#909090;"></div>
<svg style="position:absolute;left:162px;top:175.5px" width="6" height="4" viewBox="0 0 6 4"><path d="M0,0 H6 L3,3.5Z" fill="#f0f0f0"/></svg>
<div class="t" style="position:absolute;left:205.4px;top:177.5px;transform:translate(0,-50%);font-size:8px;color:#e8e8e8;font-weight:400;white-space:nowrap;line-height:1;">Period</div>
<div style="position:absolute;left:235.1px;top:169.9px;width:49.5px;height:15.5px;border:1px solid #8a8a8a;border-radius:8px;background:#1c1c1c;overflow:hidden;"></div>
<div style="position:absolute;left:250.1px;top:170.6px;width:16px;height:14.1px;background:#e6e6e6;"></div>
<div class="t" style="position:absolute;left:242.8px;top:177.7px;transform:translate(-50%,-50%);font-size:6.8px;color:#f0f0f0;font-weight:400;white-space:nowrap;line-height:1;-webkit-text-stroke:0.1px #f0f0f0;">1d</div>
<div class="t" style="position:absolute;left:258.1px;top:177.7px;transform:translate(-50%,-50%);font-size:6.8px;color:#2a2a2a;font-weight:400;white-space:nowrap;line-height:1;-webkit-text-stroke:0.1px #2a2a2a;">7d</div>
<div class="t" style="position:absolute;left:275.4px;top:177.7px;transform:translate(-50%,-50%);font-size:6.8px;color:#f0f0f0;font-weight:400;white-space:nowrap;line-height:1;-webkit-text-stroke:0.1px #f0f0f0;">30d</div>
<svg style="position:absolute;left:736.5px;top:171px" width="13.5" height="13.5" viewBox="0 0 24 24"><path d="M17.65 6.35A7.958 7.958 0 0 0 12 4c-4.42 0-7.99 3.58-7.99 8s3.57 8 7.99 8c3.73 0 6.84-2.55 7.73-6h-2.08A5.99 5.99 0 0 1 12 18c-3.31 0-6-2.69-6-6s2.69-6 6-6c1.66 0 3.14.69 4.22 1.78L13 11h7V4l-2.35 2.35z" fill="#f0f0f0"/></svg>
<svg style="position:absolute;left:755.5px;top:171px" width="13" height="13" viewBox="0 0 24 24"><path d="M12 2C6.48 2 2 6.48 2 12s4.48 10 10 10 10-4.48 10-10S17.52 2 12 2zm1 17h-2v-2h2v2zm2.07-7.75-.9.92C13.45 12.9 13 13.5 13 15h-2v-.5c0-1.1.45-2.1 1.17-2.83l1.24-1.26c.37-.36.59-.86.59-1.41 0-1.1-.9-2-2-2s-2 .9-2 2H8c0-2.21 1.79-4 4-4s4 1.79 4 4c0 .88-.36 1.68-.93 2.25z" fill="#f4f4f4"/></svg>
<div style="position:absolute;left:9.5px;top:192.2px;width:788.5px;height:0.8px;background:#1f1f1f;"></div>
<div class="t" style="position:absolute;left:408px;top:32.5px;transform:translate(-50%,-50%);font-size:8.2px;color:#f4f4f4;font-weight:400;white-space:nowrap;line-height:1;-webkit-text-stroke:0.3px #f4f4f4;">Distribution by Top Malware Tags</div>
<svg style="position:absolute;left:0;top:0" width="800" height="468" viewBox="0 0 800 468"><defs><radialGradient id="dk"><stop offset="0.85" stop-color="#1e1e1e"/><stop offset="0.91" stop-color="#1e1e1e" stop-opacity="0.85"/><stop offset="1" stop-color="#1e1e1e" stop-opacity="0"/></radialGradient></defs><circle cx="408" cy="117" r="76" fill="url(#dk)"/><path d="M408.00,57.80 A59.2,59.2 0 0 1 454.33,80.15 L436.64,94.22 A36.6,36.6 0 0 0 408.00,80.40 Z" fill="#ee3631"/><path d="M454.33,80.15 A59.2,59.2 0 0 1 466.39,126.77 L444.10,123.04 A36.6,36.6 0 0 0 436.64,94.22 Z" fill="#f14c47"/><path d="M466.39,126.77 A59.2,59.2 0 0 1 443.46,164.40 L429.92,146.31 A36.6,36.6 0 0 0 444.10,123.04 Z" fill="#f35b56"/><path d="M443.46,164.40 A59.2,59.2 0 0 1 402.63,175.96 L404.68,153.45 A36.6,36.6 0 0 0 429.92,146.31 Z" fill="#f46a65"/><path d="M402.63,175.96 A59.2,59.2 0 0 1 367.47,160.15 L382.95,143.68 A36.6,36.6 0 0 0 404.68,153.45 Z" fill="#f57a75"/><path d="M367.47,160.15 A59.2,59.2 0 0 1 350.18,129.71 L372.25,124.86 A36.6,36.6 0 0 0 382.95,143.68 Z" fill="#f68a86"/><path d="M350.18,129.71 A59.2,59.2 0 0 1 351.60,99.00 L373.13,105.87 A36.6,36.6 0 0 0 372.25,124.86 Z" fill="#f79c98"/><path d="M351.60,99.00 A59.2,59.2 0 0 1 366.21,75.07 L382.17,91.07 A36.6,36.6 0 0 0 373.13,105.87 Z" fill="#f9b0ad"/><path d="M366.21,75.07 A59.2,59.2 0 0 1 386.98,61.66 L395.00,82.79 A36.6,36.6 0 0 0 382.17,91.07 Z" fill="#fbc9c7"/><path d="M386.98,61.66 A59.2,59.2 0 0 1 408.00,57.80 L408.00,80.40 A36.6,36.6 0 0 0 395.00,82.79 Z" fill="#fde6e5"/><line x1="408.00" y1="57.30" x2="408.00" y2="80.90" stroke="#1e1e1e" stroke-width="1.4"/><line x1="454.72" y1="79.84" x2="436.25" y2="94.53" stroke="#1e1e1e" stroke-width="1.4"/><line x1="466.88" y1="126.85" x2="443.60" y2="122.96" stroke="#1e1e1e" stroke-width="1.4"/><line x1="443.76" y1="164.80" x2="429.62" y2="145.91" stroke="#1e1e1e" stroke-width="1.4"/><line x1="402.59" y1="176.45" x2="404.73" y2="152.95" stroke="#1e1e1e" stroke-width="1.4"/><line x1="367.13" y1="160.52" x2="383.29" y2="143.32" stroke="#1e1e1e" stroke-width="1.4"/><line x1="349.69" y1="129.82" x2="372.74" y2="124.75" stroke="#1e1e1e" stroke-width="1.4"/><line x1="351.13" y1="98.85" x2="373.61" y2="106.02" stroke="#1e1e1e" stroke-width="1.4"/><line x1="365.86" y1="74.71" x2="382.52" y2="91.43" stroke="#1e1e1e" stroke-width="1.4"/><line x1="386.80" y1="61.19" x2="395.18" y2="83.25" stroke="#1e1e1e" stroke-width="1.4"/></svg>
<div class="t" style="position:absolute;left:428.81px;top:73.86px;transform:translate(-50%,-50%);font-size:6.8px;color:#2a1414;font-weight:400;white-space:nowrap;line-height:1;-webkit-text-stroke:0.3px #2a1414;">4436</div>
<div class="t" style="position:absolute;left:454.37px;top:105.01px;transform:translate(-50%,-50%);font-size:6.8px;color:#2a1414;font-weight:400;white-space:nowrap;line-height:1;-webkit-text-stroke:0.3px #2a1414;">2243</div>
<div class="t" style="position:absolute;left:448.91px;top:141.92px;transform:translate(-50%,-50%);font-size:6.8px;color:#2a1414;font-weight:400;white-space:nowrap;line-height:1;-webkit-text-stroke:0.3px #2a1414;">2160</div>
<div class="t" style="position:absolute;left:421.04px;top:163.09px;transform:translate(-50%,-50%);font-size:6.8px;color:#2a1414;font-weight:400;white-space:nowrap;line-height:1;-webkit-text-stroke:0.3px #2a1414;">1761</div>
<div class="t" style="position:absolute;left:388.36px;top:160.69px;transform:translate(-50%,-50%);font-size:6.8px;color:#2a1414;font-weight:400;white-space:nowrap;line-height:1;-webkit-text-stroke:0.3px #2a1414;">762</div>
<div class="t" style="position:absolute;left:366.35px;top:140.66px;transform:translate(-50%,-50%);font-size:6.8px;color:#2a1414;font-weight:400;white-space:nowrap;line-height:1;-webkit-text-stroke:0.3px #2a1414;">306</div>
<div class="t" style="position:absolute;left:360.15px;top:114.79px;transform:translate(-50%,-50%);font-size:6.8px;color:#2a1414;font-weight:400;white-space:nowrap;line-height:1;-webkit-text-stroke:0.3px #2a1414;">171</div>
<div class="t" style="position:absolute;left:367.11px;top:92.04px;transform:translate(-50%,-50%);font-size:6.8px;color:#2a1414;font-weight:400;white-space:nowrap;line-height:1;-webkit-text-stroke:0.3px #2a1414;">149</div>
<div class="t" style="position:absolute;left:382.02px;top:76.76px;transform:translate(-50%,-50%);font-size:6.8px;color:#2a1414;font-weight:400;white-space:nowrap;line-height:1;-webkit-text-stroke:0.3px #2a1414;">126</div>
<div class="t" style="position:absolute;left:399.35px;top:69.89px;transform:translate(-50%,-50%);font-size:6.8px;color:#2a1414;font-weight:400;white-space:nowrap;line-height:1;-webkit-text-stroke:0.3px #2a1414;">22</div>
<div class="t" style="position:absolute;left:407.2px;top:108.2px;transform:translate(-50%,-50%);font-size:15.5px;color:#f6f6f6;font-weight:400;white-space:nowrap;line-height:1;-webkit-text-stroke:0.25px #f6f6f6;">12161</div>
<div class="t" style="position:absolute;left:407.9px;top:125.8px;transform:translate(-50%,-50%);font-size:9.2px;color:#f6f6f6;font-weight:400;white-space:nowrap;line-height:1;-webkit-text-stroke:0.25px #f6f6f6;">Total</div>
<div class="t" style="position:absolute;left:361.8px;top:57.800000000000004px;transform:translate(-50%,-50%);font-size:7px;color:#f4f4f4;font-weight:400;white-space:nowrap;line-height:1;-webkit-text-stroke:0.3px #f4f4f4;">spyware</div>
<div class="t" style="position:absolute;left:454.1px;top:57.400000000000006px;transform:translate(-50%,-50%);font-size:7px;color:#f4f4f4;font-weight:400;white-space:nowrap;line-height:1;-webkit-text-stroke:0.3px #f4f4f4;">trojan</div>
<div class="t" style="position:absolute;left:342.4px;top:74.5px;transform:translate(-50%,-50%);font-size:7px;color:#f4f4f4;font-weight:400;white-space:nowrap;line-height:1;-webkit-text-stroke:0.3px #f4f4f4;">loader</div>
<div class="t" style="position:absolute;left:482.1px;top:96.4px;transform:translate(-50%,-50%);font-size:7px;color:#f4f4f4;font-weight:400;white-space:nowrap;line-height:1;-webkit-text-stroke:0.3px #f4f4f4;">stealer</div>
<div class="t" style="position:absolute;left:330.6px;top:111.60000000000001px;transform:translate(-50%,-50%);font-size:7px;color:#f4f4f4;font-weight:400;white-space:nowrap;line-height:1;-webkit-text-stroke:0.3px #f4f4f4;">banker</div>
<div class="t" style="position:absolute;left:473.5px;top:155.79999999999998px;transform:translate(-50%,-50%);font-size:7px;color:#f4f4f4;font-weight:400;white-space:nowrap;line-height:1;-webkit-text-stroke:0.3px #f4f4f4;">botnet</div>
<div class="t" style="position:absolute;left:341.1px;top:153.5px;transform:translate(-50%,-50%);font-size:7px;color:#f4f4f4;font-weight:400;white-space:nowrap;line-height:1;-webkit-text-stroke:0.3px #f4f4f4;">rat</div>
<div style="position:absolute;left:35.45px;top:201.95px;width:7.1px;height:7.1px;border:1.75px solid #d0d0d0;border-radius:1.4px;"></div>
<svg style="position:absolute;left:46px;top:201px" width="8" height="9" viewBox="0 0 24 24"><path d="M19 9h-4V3H9v6H5l7 7 7-7zM5 18v2h14v-2H5z" fill="#cfcfcf"/></svg>
<div class="t" style="position:absolute;left:65px;top:206px;transform:translate(0,-50%);font-size:6.2px;color:#b4b4b4;font-weight:400;white-space:nowrap;line-height:1;">Malware Family</div>
<div class="t" style="position:absolute;left:191.5px;top:206px;transform:translate(0,-50%);font-size:6.2px;color:#b4b4b4;font-weight:400;white-space:nowrap;line-height:1;">Detonation Count</div>
<div class="t" style="position:absolute;left:254px;top:206px;transform:translate(0,-50%);font-size:6.2px;color:#b4b4b4;font-weight:400;white-space:nowrap;line-height:1;">Top 5 Tags</div>
<div class="t" style="position:absolute;left:476.5px;top:206px;transform:translate(0,-50%);font-size:6.2px;color:#b4b4b4;font-weight:400;white-space:nowrap;line-height:1;">Top 5 C2 ASNs</div>
<div style="position:absolute;left:22.3px;top:218.4px;width:762.7px;height:36.3px;background:#1b1b1b;border-radius:6px;"></div>
<div style="position:absolute;left:35.550000000000004px;top:233.75px;width:7.1px;height:7.1px;border:1.75px solid #d0d0d0;border-radius:1.4px;"></div>
<div style="position:absolute;left:64.6px;top:224.3px;width:101.3px;height:23.2px;background:#4d6aa8;border-radius:2px;box-shadow:0 0 2px rgba(10,20,50,0.8);"></div>
<div class="t" style="position:absolute;left:72.1px;top:236.4px;transform:translate(0,-50%);font-size:7.9px;color:#18223a;font-weight:400;white-space:nowrap;line-height:1;-webkit-text-stroke:0.15px #18223a;">urelas</div>
<div class="t" style="position:absolute;left:205.7px;top:236.8px;transform:translate(0,-50%);font-size:8.2px;color:#f4f4f4;font-weight:400;white-space:nowrap;line-height:1;-webkit-text-stroke:0.35px #f4f4f4;">2779</div>
<div style="position:absolute;left:267px;top:225.20000000000002px;width:21px;height:11.0px;background:#2c3b4f;border-radius:2px;"></div>
<div class="t" style="position:absolute;left:277.5px;top:230.70000000000002px;transform:translate(-50%,-50%);font-size:6.3px;color:#e4eaf2;font-weight:400;white-space:nowrap;line-height:1;-webkit-text-stroke:0.3px #e4eaf2;">trojan</div>
<div class="t" style="position:absolute;left:277.5px;top:245.1px;transform:translate(-50%,-50%);font-size:6px;color:#e85d64;font-weight:400;white-space:nowrap;line-height:1;-webkit-text-stroke:0.25px #e85d64;">100%</div>
<div class="t" style="position:absolute;left:478.6px;top:229.6px;transform:translate(0,-50%);font-size:6.4px;color:#c2d0dc;font-weight:400;white-space:nowrap;line-height:1;">AS9318</div>
<svg style="position:absolute;left:479.30px;top:235.50px" width="14" height="14" viewBox="0 0 30 30"><defs><clipPath id="f11"><circle cx="15" cy="15" r="15"/></clipPath></defs><g clip-path="url(#f11)"><rect width="30" height="30" fill="#f2f2f2"/><path d="M8.5,15 a6.5,6.5 0 0 1 13,0Z" fill="#d8284a"/><path d="M8.5,15 a6.5,6.5 0 0 0 13,0Z" fill="#2a3f9a"/><rect x="5.700000000000001" y="6.4" width="5.2" height="3.8" fill="#707070" transform="rotate(-45 8.3 8.3)"/><rect x="19.099999999999998" y="6.4" width="5.2" height="3.8" fill="#707070" transform="rotate(45 21.7 8.3)"/><rect x="5.700000000000001" y="19.8" width="5.2" height="3.8" fill="#707070" transform="rotate(45 8.3 21.7)"/><rect x="19.099999999999998" y="19.8" width="5.2" height="3.8" fill="#707070" transform="rotate(-45 21.7 21.7)"/></g></svg>
<div class="t" style="position:absolute;left:495.70000000000005px;top:242.5px;transform:translate(0,-50%);font-size:6.5px;color:#9ab86d;font-weight:400;white-space:nowrap;line-height:1;">87%</div>
<div class="t" style="position:absolute;left:529.8000000000001px;top:229.6px;transform:translate(0,-50%);font-size:6.4px;color:#c2d0dc;font-weight:400;white-space:nowrap;line-height:1;">AS7684</div>
<svg style="position:absolute;left:530.50px;top:235.50px" width="14" height="14" viewBox="0 0 30 30"><defs><clipPath id="f12"><circle cx="15" cy="15" r="15"/></clipPath></defs><g clip-path="url(#f12)"><rect width="30" height="30" fill="#f4f4f4"/><circle cx="15" cy="15" r="7" fill="#c8102e"/></g></svg>
<div class="t" style="position:absolute;left:546.9000000000001px;top:242.5px;transform:translate(0,-50%);font-size:6.5px;color:#9ab86d;font-weight:400;white-space:nowrap;line-height:1;">39%</div>
<div class="t" style="position:absolute;left:581.0px;top:229.6px;transform:translate(0,-50%);font-size:6.4px;color:#c2d0dc;font-weight:400;white-space:nowrap;line-height:1;">AS4766</div>
<svg style="position:absolute;left:581.70px;top:235.50px" width="14" height="14" viewBox="0 0 30 30"><defs><clipPath id="f13"><circle cx="15" cy="15" r="15"/></clipPath></defs><g clip-path="url(#f13)"><rect width="30" height="30" fill="#f2f2f2"/><path d="M8.5,15 a6.5,6.5 0 0 1 13,0Z" fill="#d8284a"/><path d="M8.5,15 a6.5,6.5 0 0 0 13,0Z" fill="#2a3f9a"/><rect x="5.700000000000001" y="6.4" width="5.2" height="3.8" fill="#707070" transform="rotate(-45 8.3 8.3)"/><rect x="19.099999999999998" y="6.4" width="5.2" height="3.8" fill="#707070" transform="rotate(45 21.7 8.3)"/><rect x="5.700000000000001" y="19.8" width="5.2" height="3.8" fill="#707070" transform="rotate(45 8.3 21.7)"/><rect x="19.099999999999998" y="19.8" width="5.2" height="3.8" fill="#707070" transform="rotate(-45 21.7 21.7)"/></g></svg>
<div class="t" style="position:absolute;left:598.1px;top:242.5px;transform:translate(0,-50%);font-size:6.5px;color:#9ab86d;font-weight:400;white-space:nowrap;line-height:1;">10%</div>
<div class="t" style="position:absolute;left:632.2px;top:229.6px;transform:translate(0,-50%);font-size:6.4px;color:#c2d0dc;font-weight:400;white-space:nowrap;line-height:1;">AS10036</div>
<svg style="position:absolute;left:632.90px;top:235.50px" width="14" height="14" viewBox="0 0 30 30"><defs><clipPath id="f14"><circle cx="15" cy="15" r="15"/></clipPath></defs><g clip-path="url(#f14)"><rect width="30" height="30" fill="#f2f2f2"/><path d="M8.5,15 a6.5,6.5 0 0 1 13,0Z" fill="#d8284a"/><path d="M8.5,15 a6.5,6.5 0 0 0 13,0Z" fill="#2a3f9a"/><rect x="5.700000000000001" y="6.4" width="5.2" height="3.8" fill="#707070" transform="rotate(-45 8.3 8.3)"/><rect x="19.099999999999998" y="6.4" width="5.2" height="3.8" fill="#707070" transform="rotate(45 21.7 8.3)"/><rect x="5.700000000000001" y="19.8" width="5.2" height="3.8" fill="#707070" transform="rotate(45 8.3 21.7)"/><rect x="19.099999999999998" y="19.8" width="5.2" height="3.8" fill="#707070" transform="rotate(-45 21.7 21.7)"/></g></svg>
<div class="t" style="position:absolute;left:649.3000000000001px;top:242.5px;transform:translate(0,-50%);font-size:6.5px;color:#9ab86d;font-weight:400;white-space:nowrap;line-height:1;">7%</div>
<div class="t" style="position:absolute;left:683.4000000000001px;top:229.6px;transform:translate(0,-50%);font-size:6.4px;color:#c2d0dc;font-weight:400;white-space:nowrap;line-height:1;">AS3786</div>
<svg style="position:absolute;left:684.10px;top:235.50px" width="14" height="14" viewBox="0 0 30 30"><defs><clipPath id="f15"><circle cx="15" cy="15" r="15"/></clipPath></defs><g clip-path="url(#f15)"><rect width="30" height="30" fill="#f2f2f2"/><path d="M8.5,15 a6.5,6.5 0 0 1 13,0Z" fill="#d8284a"/><path d="M8.5,15 a6.5,6.5 0 0 0 13,0Z" fill="#2a3f9a"/><rect x="5.700000000000001" y="6.4" width="5.2" height="3.8" fill="#707070" transform="rotate(-45 8.3 8.3)"/><rect x="19.099999999999998" y="6.4" width="5.2" height="3.8" fill="#707070" transform="rotate(45 21.7 8.3)"/><rect x="5.700000000000001" y="19.8" width="5.2" height="3.8" fill="#707070" transform="rotate(45 8.3 21.7)"/><rect x="19.099999999999998" y="19.8" width="5.2" height="3.8" fill="#707070" transform="rotate(-45 21.7 21.7)"/></g></svg>
<div class="t" style="position:absolute;left:700.5000000000001px;top:242.5px;transform:translate(0,-50%);font-size:6.5px;color:#9ab86d;font-weight:400;white-space:nowrap;line-height:1;"><1%</div>
<svg style="position:absolute;left:758px;top:234.2px" width="6" height="4" viewBox="0 0 6 4"><path d="M0,0 H6 L3,3.5Z" fill="#f0f0f0"/></svg>
<div style="position:absolute;left:22.3px;top:257.7px;width:762.7px;height:36.3px;background:#1b1b1b;border-radius:6px;"></div>
<div style="position:absolute;left:35.550000000000004px;top:273.04999999999995px;width:7.1px;height:7.1px;border:1.75px solid #d0d0d0;border-radius:1.4px;"></div>
<div style="position:absolute;left:64.6px;top:263.59999999999997px;width:101.3px;height:23.2px;background:#5873ae;border-radius:2px;box-shadow:0 0 2px rgba(10,20,50,0.8);"></div>
<div class="t" style="position:absolute;left:72.1px;top:275.7px;transform:translate(0,-50%);font-size:7.9px;color:#18223a;font-weight:400;white-space:nowrap;line-height:1;-webkit-text-stroke:0.15px #18223a;">risepro</div>
<div class="t" style="position:absolute;left:205.7px;top:276.09999999999997px;transform:translate(0,-50%);font-size:8.2px;color:#f4f4f4;font-weight:400;white-space:nowrap;line-height:1;-webkit-text-stroke:0.35px #f4f4f4;">2059</div>
<div style="position:absolute;left:265.5px;top:264.5px;width:24.0px;height:11.0px;background:#2c3b4f;border-radius:2px;"></div>
<div class="t" style="position:absolute;left:277.5px;top:270.0px;transform:translate(-50%,-50%);font-size:6.3px;color:#e4eaf2;font-weight:400;white-space:nowrap;line-height:1;-webkit-text-stroke:0.3px #e4eaf2;">stealer</div>
<div class="t" style="position:absolute;left:277.5px;top:284.4px;transform:translate(-50%,-50%);font-size:6px;color:#e85d64;font-weight:400;white-space:nowrap;line-height:1;-webkit-text-stroke:0.25px #e85d64;">100%</div>
<div style="position:absolute;left:316.9px;top:264.5px;width:23.200000000000045px;height:11.0px;background:#2c3b4f;border-radius:2px;"></div>
<div class="t" style="position:absolute;left:328.5px;top:270.0px;transform:translate(-50%,-50%);font-size:6.3px;color:#e4eaf2;font-weight:400;white-space:nowrap;line-height:1;-webkit-text-stroke:0.3px #e4eaf2;">botnet</div>
<div class="t" style="position:absolute;left:328.5px;top:284.4px;transform:translate(-50%,-50%);font-size:6px;color:#e85d64;font-weight:400;white-space:nowrap;line-height:1;-webkit-text-stroke:0.25px #e85d64;">2%</div>
<div class="t" style="position:absolute;left:478.6px;top:268.9px;transform:translate(0,-50%);font-size:6.4px;color:#c2d0dc;font-weight:400;white-space:nowrap;line-height:1;">AS216319</div>
<svg style="position:absolute;left:479.30px;top:274.80px" width="14" height="14" viewBox="0 0 30 30"><defs><clipPath id="f16"><circle cx="15" cy="15" r="15"/></clipPath></defs><g clip-path="url(#f16)"><rect width="30" height="30" fill="#2a3f8f"/><path d="M0,0 L30,30 M30,0 L0,30" stroke="#fff" stroke-width="4.5"/><path d="M0,0 L30,30 M30,0 L0,30" stroke="#d22" stroke-width="1.6"/><path d="M15,0 V30 M0,15 H30" stroke="#fff" stroke-width="7"/><path d="M15,0 V30 M0,15 H30" stroke="#d22" stroke-width="4"/></g></svg>
<div class="t" style="position:absolute;left:495.70000000000005px;top:281.8px;transform:translate(0,-50%);font-size:6.5px;color:#9ab86d;font-weight:400;white-space:nowrap;line-height:1;">98%</div>
<div class="t" style="position:absolute;left:529.8000000000001px;top:268.9px;transform:translate(0,-50%);font-size:6.4px;color:#c2d0dc;font-weight:400;white-space:nowrap;line-height:1;">AS24940</div>
<svg style="position:absolute;left:530.50px;top:274.80px" width="14" height="14" viewBox="0 0 30 30"><defs><clipPath id="f17"><circle cx="15" cy="15" r="15"/></clipPath></defs><g clip-path="url(#f17)"><rect width="30" height="10" fill="#222"/><rect y="10" width="30" height="10" fill="#dd1c1c"/><rect y="20" width="30" height="10" fill="#f2c417"/></g></svg>
<div class="t" style="position:absolute;left:546.9000000000001px;top:281.8px;transform:translate(0,-50%);font-size:6.5px;color:#9ab86d;font-weight:400;white-space:nowrap;line-height:1;"><1%</div>
<div class="t" style="position:absolute;left:581.0px;top:268.9px;transform:translate(0,-50%);font-size:6.4px;color:#c2d0dc;font-weight:400;white-space:nowrap;line-height:1;">AS9009</div>
<svg style="position:absolute;left:581.70px;top:274.80px" width="14" height="14" viewBox="0 0 30 30"><defs><clipPath id="f18"><circle cx="15" cy="15" r="15"/></clipPath></defs><g clip-path="url(#f18)"><rect width="10" height="30" fill="#1f3f9a"/><rect x="10" width="10" height="30" fill="#f5c518"/><rect x="20" width="10" height="30" fill="#d52b1e"/></g></svg>
<div class="t" style="position:absolute;left:598.1px;top:281.8px;transform:translate(0,-50%);font-size:6.5px;color:#9ab86d;font-weight:400;white-space:nowrap;line-height:1;"><1%</div>
<div class="t" style="position:absolute;left:632.2px;top:268.9px;transform:translate(0,-50%);font-size:6.4px;color:#c2d0dc;font-weight:400;white-space:nowrap;line-height:1;">AS21100</div>
<svg style="position:absolute;left:632.90px;top:274.80px" width="14" height="14" viewBox="0 0 30 30"><defs><clipPath id="f19"><circle cx="15" cy="15" r="15"/></clipPath></defs><g clip-path="url(#f19)"><rect width="30" height="15" fill="#2b5fc4"/><rect y="15" width="30" height="15" fill="#f5c518"/></g></svg>
<div class="t" style="position:absolute;left:649.3000000000001px;top:281.8px;transform:translate(0,-50%);font-size:6.5px;color:#9ab86d;font-weight:400;white-space:nowrap;line-height:1;"><1%</div>
<div class="t" style="position:absolute;left:683.4000000000001px;top:268.9px;transform:translate(0,-50%);font-size:6.4px;color:#c2d0dc;font-weight:400;white-space:nowrap;line-height:1;">AS215789</div>
<svg style="position:absolute;left:684.10px;top:274.80px" width="14" height="14" viewBox="0 0 30 30"><defs><clipPath id="f20"><circle cx="15" cy="15" r="15"/></clipPath></defs><g clip-path="url(#f20)"><rect width="30" height="15" fill="#2b5fc4"/><rect y="15" width="30" height="15" fill="#f5c518"/></g></svg>
<div class="t" style="position:absolute;left:700.5000000000001px;top:281.8px;transform:translate(0,-50%);font-size:6.5px;color:#9ab86d;font-weight:400;white-space:nowrap;line-height:1;"><1%</div>
<svg style="position:absolute;left:758px;top:273.5px" width="6" height="4" viewBox="0 0 6 4"><path d="M0,0 H6 L3,3.5Z" fill="#f0f0f0"/></svg>
<div style="position:absolute;left:22.3px;top:297.0px;width:762.7px;height:36.3px;background:#1b1b1b;border-radius:6px;"></div>
<div style="position:absolute;left:35.550000000000004px;top:312.34999999999997px;width:7.1px;height:7.1px;border:1.75px solid #d0d0d0;border-radius:1.4px;"></div>
<div style="position:absolute;left:64.6px;top:302.9px;width:101.3px;height:23.2px;background:#6e87bc;border-radius:2px;box-shadow:0 0 2px rgba(10,20,50,0.8);"></div>
<div class="t" style="position:absolute;left:72.1px;top:315.0px;transform:translate(0,-50%);font-size:7.9px;color:#18223a;font-weight:400;white-space:nowrap;line-height:1;-webkit-text-stroke:0.15px #18223a;">sality</div>
<div class="t" style="position:absolute;left:205.7px;top:315.4px;transform:translate(0,-50%);font-size:8.2px;color:#f4f4f4;font-weight:400;white-space:nowrap;line-height:1;-webkit-text-stroke:0.35px #f4f4f4;">1567</div>
<div style="position:absolute;left:261.5px;top:303.8px;width:31.5px;height:11.0px;background:#2c3b4f;border-radius:2px;"></div>
<div class="t" style="position:absolute;left:277.25px;top:309.3px;transform:translate(-50%,-50%);font-size:6.3px;color:#e4eaf2;font-weight:400;white-space:nowrap;line-height:1;-webkit-text-stroke:0.3px #e4eaf2;">backdoor</div>
<div class="t" style="position:absolute;left:277.25px;top:323.7px;transform:translate(-50%,-50%);font-size:6px;color:#e85d64;font-weight:400;white-space:nowrap;line-height:1;-webkit-text-stroke:0.25px #e85d64;">100%</div>
<div class="t" style="position:absolute;left:478.6px;top:308.2px;transform:translate(0,-50%);font-size:6.4px;color:#c2d0dc;font-weight:400;white-space:nowrap;line-height:1;">AS8968</div>
<svg style="position:absolute;left:479.30px;top:314.10px" width="14" height="14" viewBox="0 0 30 30"><defs><clipPath id="f21"><circle cx="15" cy="15" r="15"/></clipPath></defs><g clip-path="url(#f21)"><rect width="10" height="30" fill="#2f9a48"/><rect x="10" width="10" height="30" fill="#f4f4f4"/><rect x="20" width="10" height="30" fill="#d3273a"/></g></svg>
<div class="t" style="position:absolute;left:495.70000000000005px;top:321.1px;transform:translate(0,-50%);font-size:6.5px;color:#9ab86d;font-weight:400;white-space:nowrap;line-height:1;">100%</div>
<svg style="position:absolute;left:758px;top:312.8px" width="6" height="4" viewBox="0 0 6 4"><path d="M0,0 H6 L3,3.5Z" fill="#f0f0f0"/></svg>
<div style="position:absolute;left:22.3px;top:336.3px;width:762.7px;height:36.3px;background:#1b1b1b;border-radius:6px 6px 0 0;"></div>
<div style="position:absolute;left:35.550000000000004px;top:351.65px;width:7.1px;height:7.1px;border:1.75px solid #d0d0d0;border-radius:1.4px;"></div>
<div style="position:absolute;left:64.6px;top:342.2px;width:101.3px;height:23.2px;background:#7b94c6;border-radius:2px;box-shadow:0 0 2px rgba(10,20,50,0.8);"></div>
<div class="t" style="position:absolute;left:72.1px;top:354.3px;transform:translate(0,-50%);font-size:7.9px;color:#18223a;font-weight:400;white-space:nowrap;line-height:1;-webkit-text-stroke:0.15px #18223a;">amadey</div>
<div class="t" style="position:absolute;left:205.7px;top:354.7px;transform:translate(0,-50%);font-size:8.2px;color:#f4f4f4;font-weight:400;white-space:nowrap;line-height:1;-webkit-text-stroke:0.35px #f4f4f4;">956</div>
<div style="position:absolute;left:267px;top:343.1px;width:21.5px;height:11.0px;background:#2c3b4f;border-radius:2px;"></div>
<div class="t" style="position:absolute;left:277.75px;top:348.6px;transform:translate(-50%,-50%);font-size:6.3px;color:#e4eaf2;font-weight:400;white-space:nowrap;line-height:1;-webkit-text-stroke:0.3px #e4eaf2;">trojan</div>
<div class="t" style="position:absolute;left:277.75px;top:363.0px;transform:translate(-50%,-50%);font-size:6px;color:#e85d64;font-weight:400;white-space:nowrap;line-height:1;-webkit-text-stroke:0.25px #e85d64;">100%</div>
<div style="position:absolute;left:316.5px;top:343.1px;width:23.5px;height:11.0px;background:#2c3b4f;border-radius:2px;"></div>
<div class="t" style="position:absolute;left:328.25px;top:348.6px;transform:translate(-50%,-50%);font-size:6.3px;color:#e4eaf2;font-weight:400;white-space:nowrap;line-height:1;-webkit-text-stroke:0.3px #e4eaf2;">botnet</div>
<div class="t" style="position:absolute;left:328.25px;top:363.0px;transform:translate(-50%,-50%);font-size:6px;color:#e85d64;font-weight:400;white-space:nowrap;line-height:1;-webkit-text-stroke:0.25px #e85d64;">16%</div>
<div class="t" style="position:absolute;left:478.6px;top:347.5px;transform:translate(0,-50%);font-size:6.4px;color:#c2d0dc;font-weight:400;white-space:nowrap;line-height:1;">AS51381</div>
<svg style="position:absolute;left:479.30px;top:353.40px" width="14" height="14" viewBox="0 0 30 30"><defs><clipPath id="f22"><circle cx="15" cy="15" r="15"/></clipPath></defs><g clip-path="url(#f22)"><rect width="30" height="30" fill="#2e8b3a"/><path d="M0,30 L0,0 L10,0Z" fill="#1f3f9a"/><path d="M0,30 L10,0 L20,0Z" fill="#f5c518"/><path d="M0,30 L20,0 L30,0 L30,12Z" fill="#d92b2b"/><path d="M0,30 L30,12 L30,22Z" fill="#f4f4f4"/></g></svg>
<div class="t" style="position:absolute;left:495.70000000000005px;top:360.40000000000003px;transform:translate(0,-50%);font-size:6.5px;color:#9ab86d;font-weight:400;white-space:nowrap;line-height:1;">85%</div>
<div class="t" style="position:absolute;left:529.8000000000001px;top:347.5px;transform:translate(0,-50%);font-size:6.4px;color:#c2d0dc;font-weight:400;white-space:nowrap;line-height:1;">AS216319</div>
<svg style="position:absolute;left:530.50px;top:353.40px" width="14" height="14" viewBox="0 0 30 30"><defs><clipPath id="f23"><circle cx="15" cy="15" r="15"/></clipPath></defs><g clip-path="url(#f23)"><rect width="30" height="30" fill="#2a3f8f"/><path d="M0,0 L30,30 M30,0 L0,30" stroke="#fff" stroke-width="4.5"/><path d="M0,0 L30,30 M30,0 L0,30" stroke="#d22" stroke-width="1.6"/><path d="M15,0 V30 M0,15 H30" stroke="#fff" stroke-width="7"/><path d="M15,0 V30 M0,15 H30" stroke="#d22" stroke-width="4"/></g></svg>
<div class="t" style="position:absolute;left:546.9000000000001px;top:360.40000000000003px;transform:translate(0,-50%);font-size:6.5px;color:#9ab86d;font-weight:400;white-space:nowrap;line-height:1;">6%</div>
<div class="t" style="position:absolute;left:581.0px;top:347.5px;transform:translate(0,-50%);font-size:6.4px;color:#c2d0dc;font-weight:400;white-space:nowrap;line-height:1;">AS212165</div>
<svg style="position:absolute;left:581.70px;top:353.40px" width="14" height="14" viewBox="0 0 30 30"><defs><clipPath id="f24"><circle cx="15" cy="15" r="15"/></clipPath></defs><g clip-path="url(#f24)"><rect width="30" height="10" fill="#f4f4f4"/><rect y="10" width="30" height="10" fill="#2b4fbf"/><rect y="20" width="30" height="10" fill="#d52b1e"/></g></svg>
<div class="t" style="position:absolute;left:598.1px;top:360.40000000000003px;transform:translate(0,-50%);font-size:6.5px;color:#9ab86d;font-weight:400;white-space:nowrap;line-height:1;">4%</div>
<div class="t" style="position:absolute;left:632.2px;top:347.5px;transform:translate(0,-50%);font-size:6.4px;color:#c2d0dc;font-weight:400;white-space:nowrap;line-height:1;">AS216309</div>
<svg style="position:absolute;left:632.90px;top:353.40px" width="14" height="14" viewBox="0 0 30 30"><defs><clipPath id="f25"><circle cx="15" cy="15" r="15"/></clipPath></defs><g clip-path="url(#f25)"><rect width="30" height="30" fill="#2a3f8f"/><path d="M0,0 L30,30 M30,0 L0,30" stroke="#fff" stroke-width="4.5"/><path d="M0,0 L30,30 M30,0 L0,30" stroke="#d22" stroke-width="1.6"/><path d="M15,0 V30 M0,15 H30" stroke="#fff" stroke-width="7"/><path d="M15,0 V30 M0,15 H30" stroke="#d22" stroke-width="4"/></g></svg>
<div class="t" style="position:absolute;left:649.3000000000001px;top:360.40000000000003px;transform:translate(0,-50%);font-size:6.5px;color:#9ab86d;font-weight:400;white-space:nowrap;line-height:1;">1%</div>
<div class="t" style="position:absolute;left:683.4000000000001px;top:347.5px;transform:translate(0,-50%);font-size:6.4px;color:#c2d0dc;font-weight:400;white-space:nowrap;line-height:1;">AS57678</div>
<svg style="position:absolute;left:684.10px;top:353.40px" width="14" height="14" viewBox="0 0 30 30"><defs><clipPath id="f26"><circle cx="15" cy="15" r="15"/></clipPath></defs><g clip-path="url(#f26)"><rect width="30" height="30" fill="#d91e2a"/><ellipse cx="15" cy="9.5" rx="2.6" ry="5" fill="#f4f4f4" transform="rotate(0 15 15)"/><ellipse cx="15" cy="9.5" rx="2.6" ry="5" fill="#f4f4f4" transform="rotate(72 15 15)"/><ellipse cx="15" cy="9.5" rx="2.6" ry="5" fill="#f4f4f4" transform="rotate(144 15 15)"/><ellipse cx="15" cy="9.5" rx="2.6" ry="5" fill="#f4f4f4" transform="rotate(216 15 15)"/><ellipse cx="15" cy="9.5" rx="2.6" ry="5" fill="#f4f4f4" transform="rotate(288 15 15)"/><circle cx="15" cy="15" r="1.5" fill="#d91e2a"/></g></svg>
<div class="t" style="position:absolute;left:700.5000000000001px;top:360.40000000000003px;transform:translate(0,-50%);font-size:6.5px;color:#9ab86d;font-weight:400;white-space:nowrap;line-height:1;">1%</div>
<svg style="position:absolute;left:758px;top:351.6px" width="6" height="4" viewBox="0 0 6 4"><path d="M0,3.5 H6 L3,0Z" fill="#f0f0f0"/></svg>
<div style="position:absolute;left:23.7px;top:374.9px;width:761.3px;height:100px;background:#1b1b1b;border-radius:6px 6px 0 0;"></div>
<svg style="position:absolute;left:68.4px;top:381.4px" width="10" height="10" viewBox="0 0 24 24"><path d="M17.65 6.35A7.958 7.958 0 0 0 12 4c-4.42 0-7.99 3.58-7.99 8s3.57 8 7.99 8c3.73 0 6.84-2.55 7.73-6h-2.08A5.99 5.99 0 0 1 12 18c-3.31 0-6-2.69-6-6s2.69-6 6-6c1.66 0 3.14.69 4.22 1.78L13 11h7V4l-2.35 2.35z" fill="#f0f0f0"/></svg>
<div style="position:absolute;left:86px;top:380px;width:0.8px;height:13px;background:#222;"></div>
<svg style="position:absolute;left:90.9px;top:381px" width="10" height="10" viewBox="0 0 24 24"><path d="M19 9h-4V3H9v6H5l7 7 7-7zM5 18v2h14v-2H5z" fill="#f0f0f0"/></svg>
<div style="position:absolute;left:105.8px;top:380px;width:0.8px;height:13px;background:#222;"></div>
<svg style="position:absolute;left:113.4px;top:382px" width="9" height="9" viewBox="0 0 24 24"><path d="M10 18h5V5h-5v13zm-6 0h5V5H4v13zM16 5v13h5V5h-5z" fill="#f0f0f0"/></svg>
<div style="position:absolute;left:119.6px;top:379.2px;width:7px;height:7px;border-radius:50%;background:#d9413a;"></div>
<div class="t" style="position:absolute;left:123.1px;top:382.8px;transform:translate(-50%,-50%);font-size:5px;color:#fff;font-weight:700;white-space:nowrap;line-height:1;">2</div>
<div style="position:absolute;left:44px;top:397.3px;width:714px;height:0.8px;background:#2a2a2a;"></div>
<div style="position:absolute;left:49.45px;top:403.34999999999997px;width:7.1px;height:7.1px;border:1.75px solid #d0d0d0;border-radius:1.4px;"></div>
<div style="position:absolute;left:44px;top:414.6px;width:716px;height:0.8px;background:#2a2a2a;"></div>
<div class="t" style="position:absolute;left:83.1px;top:406.9px;transform:translate(0,-50%);font-size:6.6px;color:#b0b0b0;font-weight:400;white-space:nowrap;line-height:1;">Date</div>
<div class="t" style="position:absolute;left:173.5px;top:406.9px;transform:translate(0,-50%);font-size:6.6px;color:#b0b0b0;font-weight:400;white-space:nowrap;line-height:1;">IP</div>
<div class="t" style="position:absolute;left:302.5px;top:406.9px;transform:translate(0,-50%);font-size:6.6px;color:#b0b0b0;font-weight:400;white-space:nowrap;line-height:1;">SHA1</div>
<div class="t" style="position:absolute;left:500px;top:406.9px;transform:translate(0,-50%);font-size:6.6px;color:#b0b0b0;font-weight:400;white-space:nowrap;line-height:1;">Tags</div>
<div class="t" style="position:absolute;left:666px;top:406.9px;transform:translate(0,-50%);font-size:6.6px;color:#b0b0b0;font-weight:400;white-space:nowrap;line-height:1;">ASN</div>
<div class="t" style="position:absolute;left:683.5px;top:406.9px;transform:translate(0,-50%);font-size:6.3px;color:#d9534a;font-weight:400;white-space:nowrap;line-height:1;font-style:italic;-webkit-text-stroke:0.2px #d9534a;">Filtered</div>
<div style="position:absolute;left:708.3px;top:402.6px;width:8.4px;height:8.4px;border-radius:50%;background:#e25a4c;"></div>
<svg style="position:absolute;left:710.5px;top:404.7px" width="4" height="4" viewBox="0 0 4 4"><path d="M0.5,0.5 L3.5,3.5 M3.5,0.5 L0.5,3.5" stroke="#f4f4f4" stroke-width="1"/></svg>
<div style="position:absolute;left:629.5px;top:379px;width:128px;height:14.2px;border:1px solid #383838;border-radius:3px;background:#1b1b1b;"></div>
<svg style="position:absolute;left:634px;top:381.5px" width="9" height="9" viewBox="0 0 24 24"><path d="M15.5 14h-.79l-.28-.27A6.471 6.471 0 0 0 16 9.5 6.5 6.5 0 1 0 9.5 16c1.61 0 3.09-.59 4.23-1.57l.27.28v.79l5 4.99L20.49 19l-4.99-5zm-6 0C7.01 14 5 11.99 5 9.5S7.01 5 9.5 5 14 7.01 14 9.5 11.99 14 9.5 14z" fill="#e0e0e0"/></svg>
<div class="t" style="position:absolute;left:648.5px;top:386px;transform:translate(0,-50%);font-size:6.3px;color:#9a9a9a;font-weight:400;white-space:nowrap;line-height:1;">Find in Table</div>
<div style="position:absolute;left:44px;top:431.90000000000003px;width:716px;height:0.8px;background:#2a2a2a;"></div>
<div style="position:absolute;left:49.45px;top:419.75px;width:7.1px;height:7.1px;border:1.75px solid #d0d0d0;border-radius:1.4px;"></div>
<div class="t" style="position:absolute;left:83.1px;top:423.3px;transform:translate(0,-50%);font-size:6.35px;color:#f0f0f0;font-weight:400;white-space:nowrap;line-height:1;-webkit-text-stroke:0.35px #f0f0f0;">2024-03-05</div>
<div class="t" style="position:absolute;left:173.5px;top:423.3px;transform:translate(0,-50%);font-size:6.5px;color:#cfe3da;font-weight:400;white-space:nowrap;line-height:1;">31.41.244.200</div>
<div class="t" style="position:absolute;left:302.5px;top:423.3px;transform:translate(0,-50%);font-size:6.5px;color:#dbe6e2;font-weight:400;white-space:nowrap;line-height:1;">e72387fc68070a3db91d041e6bf3c4ddd9a151ef</div>
<div style="position:absolute;left:499px;top:417.8px;width:22px;height:11px;background:#2c3b4f;border-radius:2px;"></div>
<div class="t" style="position:absolute;left:510px;top:423.3px;transform:translate(-50%,-50%);font-size:6.3px;color:#e4eaf2;font-weight:400;white-space:nowrap;line-height:1;-webkit-text-stroke:0.3px #e4eaf2;">trojan</div>
<div class="t" style="position:absolute;left:666px;top:423.3px;transform:translate(0,-50%);font-size:6.4px;color:#cfe3da;font-weight:400;white-space:nowrap;line-height:1;">AS57678</div>
<div style="position:absolute;left:44px;top:449.45000000000005px;width:716px;height:0.8px;background:#2a2a2a;"></div>
<div style="position:absolute;left:49.45px;top:437.3px;width:7.1px;height:7.1px;border:1.75px solid #d0d0d0;border-radius:1.4px;"></div>
<div class="t" style="position:absolute;left:83.1px;top:440.85px;transform:translate(0,-50%);font-size:6.35px;color:#f0f0f0;font-weight:400;white-space:nowrap;line-height:1;-webkit-text-stroke:0.35px #f0f0f0;">2024-03-05</div>
<div class="t" style="position:absolute;left:173.5px;top:440.85px;transform:translate(0,-50%);font-size:6.5px;color:#cfe3da;font-weight:400;white-space:nowrap;line-height:1;">31.41.244.200</div>
<div class="t" style="position:absolute;left:302.5px;top:440.85px;transform:translate(0,-50%);font-size:6.5px;color:#dbe6e2;font-weight:400;white-space:nowrap;line-height:1;">467af534d6be03a79d7229fee1badf4475f00628</div>
<div style="position:absolute;left:499px;top:435.35px;width:22px;height:11px;background:#2c3b4f;border-radius:2px;"></div>
<div class="t" style="position:absolute;left:510px;top:440.85px;transform:translate(-50%,-50%);font-size:6.3px;color:#e4eaf2;font-weight:400;white-space:nowrap;line-height:1;-webkit-text-stroke:0.3px #e4eaf2;">trojan</div>
<div class="t" style="position:absolute;left:666px;top:440.85px;transform:translate(0,-50%);font-size:6.4px;color:#cfe3da;font-weight:400;white-space:nowrap;line-height:1;">AS57678</div>
<div style="position:absolute;left:44px;top:467.00000000000006px;width:716px;height:0.8px;background:#2a2a2a;"></div>
<div style="position:absolute;left:49.45px;top:454.85px;width:7.1px;height:7.1px;border:1.75px solid #d0d0d0;border-radius:1.4px;"></div>
<div class="t" style="position:absolute;left:83.1px;top:458.40000000000003px;transform:translate(0,-50%);font-size:6.35px;color:#f0f0f0;font-weight:400;white-space:nowrap;line-height:1;-webkit-text-stroke:0.35px #f0f0f0;">2024-03-03</div>
<div class="t" style="position:absolute;left:173.5px;top:458.40000000000003px;transform:translate(0,-50%);font-size:6.5px;color:#cfe3da;font-weight:400;white-space:nowrap;line-height:1;">31.41.244.200</div>
<div class="t" style="position:absolute;left:302.5px;top:458.40000000000003px;transform:translate(0,-50%);font-size:6.5px;color:#dbe6e2;font-weight:400;white-space:nowrap;line-height:1;">e72387fc68070a3db91d041e6bf3c4ddd9a151ef</div>
<div style="position:absolute;left:499px;top:452.90000000000003px;width:22px;height:11px;background:#2c3b4f;border-radius:2px;"></div>
<div class="t" style="position:absolute;left:510px;top:458.40000000000003px;transform:translate(-50%,-50%);font-size:6.3px;color:#e4eaf2;font-weight:400;white-space:nowrap;line-height:1;-webkit-text-stroke:0.3px #e4eaf2;">trojan</div>
<div class="t" style="position:absolute;left:666px;top:458.40000000000003px;transform:translate(0,-50%);font-size:6.4px;color:#cfe3da;font-weight:400;white-space:nowrap;line-height:1;">AS57678</div>
<div style="position:absolute;left:771px;top:398.6px;width:5.4px;height:3px;background:#050505;border-radius:1.5px 1.5px 0 0;"></div>
<div style="position:absolute;left:771px;top:401.2px;width:5.4px;height:70px;background:#e4e4e4;"></div>
</div></body></html>
